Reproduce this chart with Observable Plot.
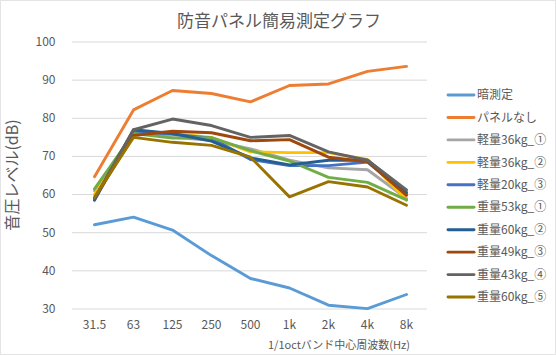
<!DOCTYPE html>
<html>
<head>
<meta charset="utf-8">
<script src="https://cdn.jsdelivr.net/npm/d3@7"></script>
<script src="https://cdn.jsdelivr.net/npm/@observablehq/plot@0.6"></script>
<style>
  html, body { margin: 0; padding: 0; background: #fff; }
</style>
</head>
<body>
<div id="chart"></div>
<script>
const categories = ["31.5", "63", "125", "250", "500", "1k", "2k", "4k", "8k"];
const seriesNames = ["暗測定", "パネルなし", "軽量36kg_①", "軽量36kg_②", "軽量20kg_③", "重量53kg_①", "重量60kg_②", "重量49kg_③", "重量43kg_④", "重量60kg_⑤"];
const seriesColors = ["#5B9BD5", "#ED7D31", "#A5A5A5", "#FFC000", "#4472C4", "#70AD47", "#255E91", "#9E480E", "#636363", "#997300"];

const dark       = [52.1, 54.1, 50.7, 44.0, 38.0, 35.5, 31.0, 30.1, 33.8];
const noPanel    = [64.7, 82.2, 87.3, 86.5, 84.3, 88.6, 89.0, 92.3, 93.6];
const light36_1  = [61.0, 76.2, 75.0, 74.2, 72.0, 69.0, 67.0, 66.5, 59.0];
const light36_2  = [60.0, 76.0, 76.0, 75.0, 71.2, 71.0, 71.0, 69.2, 58.5];
const light20_3  = [59.0, 76.5, 75.8, 74.8, 69.2, 67.6, 67.6, 68.5, 60.2];
const heavy53_1  = [61.5, 76.0, 74.8, 74.9, 71.5, 68.8, 64.5, 63.2, 58.6];
const heavy60_2  = [58.5, 77.0, 76.0, 74.0, 69.6, 67.8, 69.0, 69.0, 60.6];
const heavy49_3  = [59.0, 75.5, 76.6, 76.2, 74.1, 74.4, 69.8, 68.6, 59.8];
const heavy43_4  = [59.0, 77.0, 79.8, 78.1, 75.0, 75.5, 71.2, 69.0, 61.2];
const heavy60_5  = [59.3, 75.0, 73.7, 72.9, 69.8, 59.4, 63.4, 62.0, 57.2];

const seriesValues = [dark, noPanel, light36_1, light36_2, light20_3, heavy53_1, heavy60_2, heavy49_3, heavy43_4, heavy60_5];
const yTicks = [30, 40, 50, 60, 70, 80, 90, 100];

const title = "防音パネル簡易測定グラフ";
const yLabel = "音圧レベル(dB)";
const xLabel = "1/1octバンド中心周波数(Hz)";

const data = seriesNames.flatMap((s, i) =>
  categories.map((f, j) => ({s, f, v: seriesValues[i][j]}))
);

const font = "'Noto Sans CJK JP', 'Noto Sans', sans-serif";
const W = 556, H = 355;
const mL = 72, mR = 129, mT = 41.5, mB = 46.5;

const chart = Plot.plot({
  width: W,
  height: H,
  marginLeft: mL,
  marginRight: mR,
  marginTop: mT,
  marginBottom: mB,
  style: {fontFamily: font, fontSize: "12px", color: "#595959", background: "#fff"},
  x: {type: "point", domain: categories, padding: 0.5, label: null},
  y: {domain: [30, 100], label: null},
  color: {domain: seriesNames, range: seriesColors},
  marks: [
    Plot.gridY(yTicks, {stroke: "#d9d9d9", strokeOpacity: 1, strokeWidth: 1}),
    Plot.axisY(yTicks, {tickSize: 0, tickPadding: 17, fill: "#595959", fontSize: 12, label: null}),
    Plot.axisX(categories, {tickSize: 0, tickPadding: 11, fill: "#595959", fontSize: 12, label: null}),
    Plot.line(data, {x: "f", y: "v", z: "s", stroke: "s", strokeWidth: 2.9, strokeLinejoin: "round", strokeLinecap: "round"})
  ]
});

const svg = d3.select(chart);
svg.attr("font-family", font);

// chart border
svg.append("rect")
  .attr("x", 0.5).attr("y", 0.5).attr("width", W - 1).attr("height", H - 1)
  .attr("fill", "none").attr("stroke", "#c8c8c8").attr("stroke-dasharray", "1,1");

// title
svg.append("text")
  .attr("x", 279).attr("y", 27)
  .attr("text-anchor", "middle")
  .attr("font-size", 17).attr("fill", "#595959")
  .text(title);

// y axis label
svg.append("text")
  .attr("transform", `translate(18,${(mT + H - mB) / 2}) rotate(-90)`)
  .attr("text-anchor", "middle")
  .attr("font-size", 16).attr("fill", "#595959")
  .text(yLabel);

// x axis label
svg.append("text")
  .attr("x", 268).attr("y", 349)
  .attr("text-anchor", "start")
  .attr("font-size", 11).attr("fill", "#595959")
  .text(xLabel);

// legend
const lg = svg.append("g").attr("text-anchor", "start");
seriesNames.forEach((name, i) => {
  const y = 95 + i * 22.45;
  lg.append("line")
    .attr("x1", 448).attr("x2", 474).attr("y1", y).attr("y2", y)
    .attr("stroke", seriesColors[i]).attr("stroke-width", 2.9).attr("stroke-linecap", "round");
  lg.append("text")
    .attr("x", 477).attr("y", y).attr("dy", "0.35em")
    .attr("text-anchor", "start")
    .attr("font-size", 12).attr("fill", "#595959")
    .text(name);
});

document.getElementById("chart").appendChild(chart);
</script>
</body>
</html>
